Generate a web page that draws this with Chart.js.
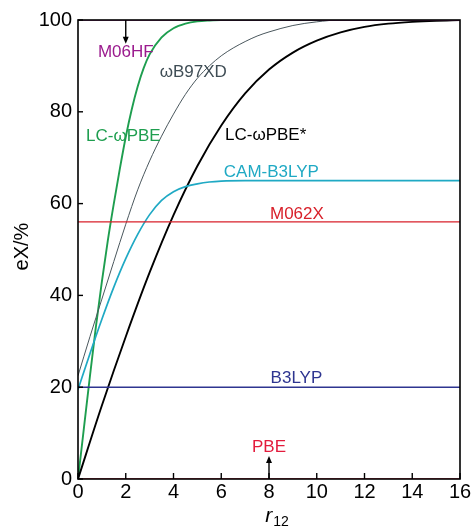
<!DOCTYPE html>
<html><head><meta charset="utf-8">
<script src="https://cdn.jsdelivr.net/npm/chart.js@4.4.1/dist/chart.umd.min.js"></script>
<style>html,body{margin:0;padding:0;background:#fff;}canvas{display:block;}</style>
</head><body>
<canvas id="c" width="476" height="531"></canvas>
<script>
// ---- data ----
const xTicks = [0, 2, 4, 6, 8, 10, 12, 14, 16];
const yTicks = [0, 20, 40, 60, 80, 100];

const lcwpbeR = [0, 0.25, 0.5, 0.75, 1.0, 1.25, 1.5, 1.75, 2.0, 2.25, 2.5, 2.75, 3.0, 3.5, 4.0, 4.5, 5.0, 5.5, 6.0, 16];
const lcwpbeV = [0, 11.2, 22.4, 33.2, 43, 52, 60, 67.5, 74.5, 80.5, 85.5, 89.5, 92.5, 96.2, 98.2, 99.2, 99.7, 99.9, 100, 100];

const wb97xdR = [0, 0.5, 1.0, 1.5, 2.0, 2.5, 3.0, 3.5, 4.0, 4.5, 5.0, 5.5, 6.0, 6.5, 7.0, 7.5, 8.0, 9.0, 10.0, 11.0, 16];
const wb97xdV = [22.5, 31, 39.2, 47.4, 55.5, 63, 69.3, 74.7, 79.5, 83.8, 87.3, 90, 92.2, 93.9, 95.3, 96.5, 97.4, 98.8, 99.6, 100, 100];

const lcwpbeStarR = [0, 1, 2, 3, 4, 5, 6, 7, 8, 9, 10, 11, 12, 13, 14, 15, 16];
const lcwpbeStarV = [0, 16, 31, 45, 57.5, 68.2, 77, 84, 89.2, 92.9, 95.5, 97.3, 98.5, 99.2, 99.6, 99.85, 100];

const camR = [0, 0.5, 1.0, 1.5, 2.0, 2.5, 3.0, 3.5, 4.0, 4.5, 5.0, 5.5, 6.0, 7.0, 16];
const camV = [19.5, 27.3, 34.8, 41.8, 48, 53.3, 57.6, 60.7, 62.6, 63.7, 64.3, 64.7, 64.9, 65, 65];

const flatR = [0, 16];
const m062xV = [56, 56];
const b3lypV = [20, 20];
const pbeV = [0, 0];
const m06hfV = [100, 100];

// text annotations
const labelTexts = ['M06HF', 'ωB97XD', 'LC-ωPBE', 'LC-ωPBE*', 'CAM-B3LYP', 'M062X', 'B3LYP', 'PBE'];
const labelX = [2.0, 4.83, 1.9, 7.86, 8.1, 9.17, 9.15, 8.0];
const labelY = [93.0, 88.6, 74.7, 74.9, 66.9, 57.7, 22.0, 6.9];
const labelColors = ['#9b1b8e', '#3f4d55', '#1e9e4f', '#000000', '#1fa9c4', '#d8202a', '#2e3590', '#e31b3c'];

// arrows: x position, from value, to value
const arrowX = [2, 8];
const arrowFrom = [100, 0];
const arrowTo = [94.8, 5.0];

function pts(r, v) { return r.map((x, i) => ({x: x, y: v[i]})); }

const FONT = '"Liberation Sans", Arial, sans-serif';

const deco = {
  id: 'deco',
  afterDatasetsDraw(chart) {
    const {ctx, chartArea: a, scales: {x, y}} = chart;
    ctx.save();
    ctx.strokeStyle = '#000';
    ctx.lineWidth = 1.6;
    ctx.strokeRect(a.left, a.top, a.right - a.left, a.bottom - a.top);
    ctx.lineWidth = 1.4;
    x.ticks.forEach(t => {
      const px = x.getPixelForValue(t.value);
      ctx.beginPath(); ctx.moveTo(px, a.bottom); ctx.lineTo(px, a.bottom - 6); ctx.stroke();
    });
    y.ticks.forEach(t => {
      const py = y.getPixelForValue(t.value);
      ctx.beginPath(); ctx.moveTo(a.left, py); ctx.lineTo(a.left + 5, py); ctx.stroke();
    });
    ctx.fillStyle = '#000';
    ctx.lineWidth = 1.4;
    arrowX.forEach((ax, i) => {
      const px = x.getPixelForValue(ax);
      const y0 = y.getPixelForValue(arrowFrom[i]);
      const y1 = y.getPixelForValue(arrowTo[i]);
      const dir = y1 > y0 ? 1 : -1;
      ctx.beginPath(); ctx.moveTo(px, y0); ctx.lineTo(px, y1 - dir * 5); ctx.stroke();
      ctx.beginPath();
      ctx.moveTo(px, y1);
      ctx.lineTo(px - 3, y1 - dir * 7);
      ctx.lineTo(px + 3, y1 - dir * 7);
      ctx.closePath(); ctx.fill();
    });
    ctx.font = '17px ' + FONT;
    ctx.textAlign = 'center';
    ctx.textBaseline = 'middle';
    labelTexts.forEach((t, i) => {
      ctx.fillStyle = labelColors[i];
      ctx.fillText(t, x.getPixelForValue(labelX[i]), y.getPixelForValue(labelY[i]));
    });
    ctx.fillStyle = '#000';
    ctx.save();
    ctx.translate(22, (a.top + a.bottom) / 2 - 3);
    ctx.rotate(-Math.PI / 2);
    ctx.font = '20px ' + FONT;
    ctx.fillText('eX/%', 0, 0);
    ctx.restore();
    ctx.textAlign = 'left';
    ctx.textBaseline = 'alphabetic';
    ctx.font = 'italic 21px ' + FONT;
    const wr = ctx.measureText('r').width;
    ctx.font = '14px ' + FONT;
    const ws = ctx.measureText('12').width;
    const cx = x.getPixelForValue(8) + 8;
    const sx = cx - (wr + ws + 1) / 2;
    ctx.font = 'italic 21px ' + FONT;
    ctx.fillText('r', sx, 521.5);
    ctx.font = '14px ' + FONT;
    ctx.fillText('12', sx + wr + 1, 525.5);
    ctx.restore();
  }
};

new Chart(document.getElementById('c'), {
  type: 'line',
  data: {
    datasets: [
      {label: 'PBE', data: pts(flatR, pbeV), borderColor: '#e31b3c', borderWidth: 1.5},
      {label: 'M06HF', data: pts(flatR, m06hfV), borderColor: '#9b1b8e', borderWidth: 1.5},
      {label: 'B3LYP', data: pts(flatR, b3lypV), borderColor: '#2e3590', borderWidth: 1.5},
      {label: 'M062X', data: pts(flatR, m062xV), borderColor: '#d8202a', borderWidth: 1.3},
      {label: 'CAM-B3LYP', data: pts(camR, camV), borderColor: '#1fa9c4', borderWidth: 1.7, cubicInterpolationMode: 'monotone'},
      {label: 'ωB97XD', data: pts(wb97xdR, wb97xdV), borderColor: '#4a575d', borderWidth: 1.0, cubicInterpolationMode: 'monotone'},
      {label: 'LC-ωPBE*', data: pts(lcwpbeStarR, lcwpbeStarV), borderColor: '#000000', borderWidth: 1.9, cubicInterpolationMode: 'monotone'},
      {label: 'LC-ωPBE', data: pts(lcwpbeR, lcwpbeV), borderColor: '#1e9e4f', borderWidth: 1.9, cubicInterpolationMode: 'monotone'}
    ]
  },
  options: {
    responsive: false,
    animation: false,
    devicePixelRatio: 1,
    elements: {point: {radius: 0}, line: {fill: false}},
    layout: {padding: {left: 0, right: 16, top: 20, bottom: 0}},
    plugins: {legend: {display: false}, tooltip: {enabled: false}},
    scales: {
      x: {
        type: 'linear', min: 0, max: 16,
        afterBuildTicks: s => { s.ticks = xTicks.map(v => ({value: v})); },
        afterFit: s => { s.height = 52; },
        grid: {display: false, drawTicks: false},
        border: {display: false},
        ticks: {font: {size: 20, family: FONT}, color: '#000', padding: 1, maxRotation: 0, autoSkip: false}
      },
      y: {
        type: 'linear', min: 0, max: 100,
        afterBuildTicks: s => { s.ticks = yTicks.map(v => ({value: v})); },
        afterFit: s => { s.width = 78; },
        grid: {display: false, drawTicks: false},
        border: {display: false},
        ticks: {font: {size: 20, family: FONT}, color: '#000', padding: 6, autoSkip: false}
      }
    }
  },
  plugins: [deco]
});
</script>
</body></html>
